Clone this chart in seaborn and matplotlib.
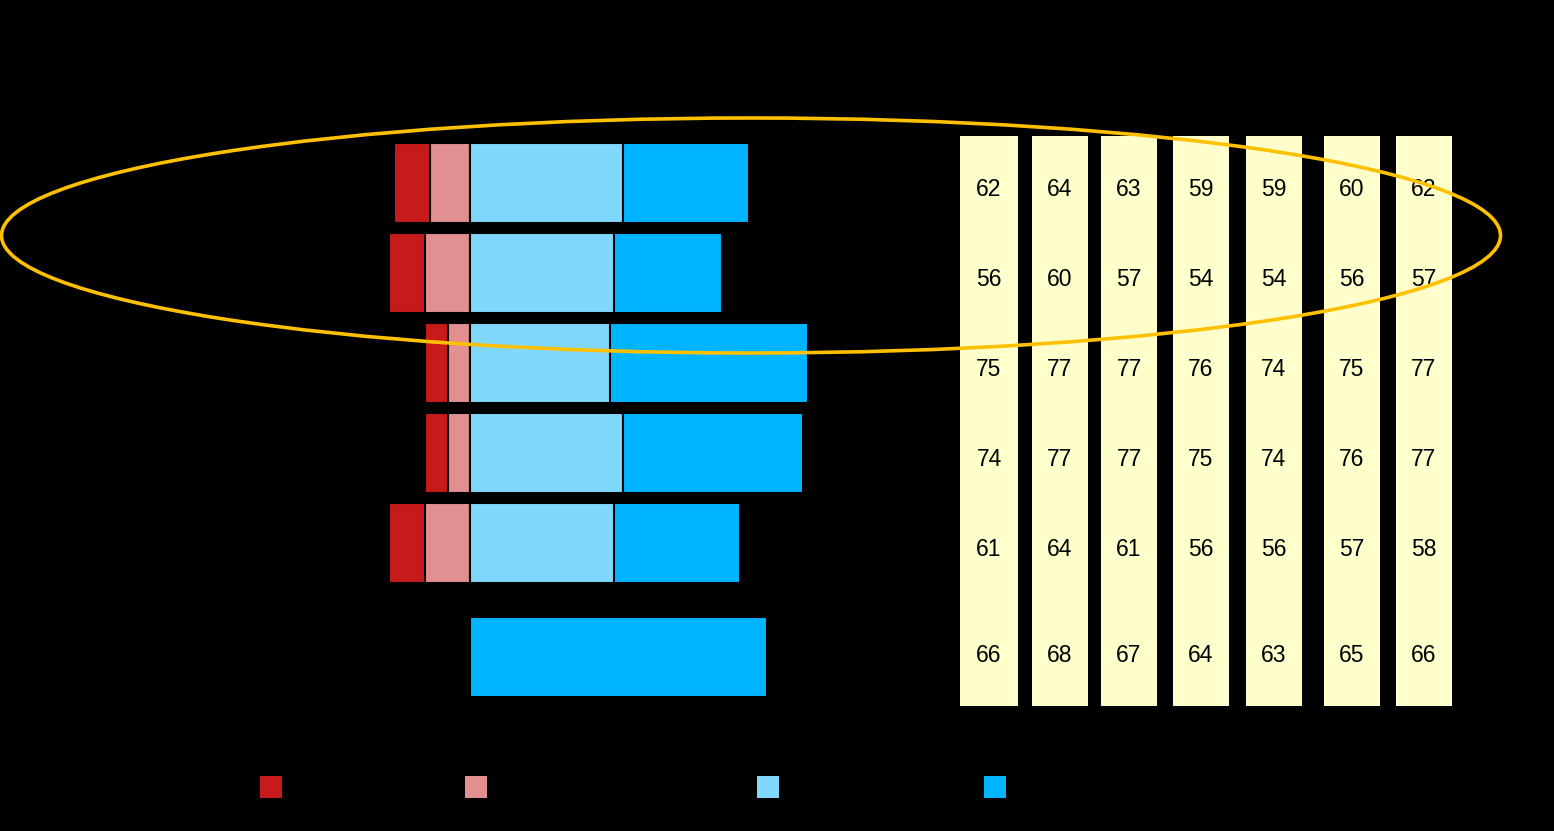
import matplotlib
matplotlib.use("Agg")
import matplotlib.pyplot as plt
from matplotlib.patches import Ellipse, Patch
import seaborn as sns
import pandas as pd

# ---------------- data ----------------
groups = ["Group A", "Group B", "Group C", "Group D", "Group E"]
total_label = ["Total"]
strong_neg = [8, 8, 5, 5, 8]      # dark red
neg = [9, 10, 5, 5, 10]           # pink
pos = [34, 32, 31, 34, 32]        # light blue
strong_pos = [28, 24, 44, 40, 28] # blue
total_pos = [66]                  # single blue bar

legend_labels = ["Strongly negative", "Negative", "Positive", "Strongly positive"]
col_headers = ["C1", "C2", "C3", "C4", "C5", "C6", "C7"]
table_rows = ["Group A", "Group B", "Group C", "Group D", "Group E", "Total"]
table_values = {
    "C1": [62, 56, 75, 74, 61, 66],
    "C2": [64, 60, 77, 77, 64, 68],
    "C3": [63, 57, 77, 77, 61, 67],
    "C4": [59, 54, 76, 75, 56, 64],
    "C5": [59, 54, 74, 74, 56, 63],
    "C6": [60, 56, 75, 76, 57, 65],
    "C7": [62, 57, 77, 77, 58, 66],
}

# ---------------- style ----------------
sns.set_theme(style="white")
plt.rcParams["font.family"] = ["Liberation Sans", "DejaVu Sans"]

C_RED = "#C71B1B"
C_PINK = "#E28F8F"
C_LBLUE = "#80D8FF"
C_BLUE = "#00B4FF"
C_YEL = "#FFFFCC"
C_ORANGE = "#FFC000"

W, H = 1554, 831
fig = plt.figure(figsize=(W / 100, H / 100), dpi=100, facecolor="black")

def fig_rect(x0, y0, x1, y1):
    return [x0 / W, 1 - y1 / H, (x1 - x0) / W, (y1 - y0) / H]

zero_px, px_per = 470, 4.5
xl = (-zero_px / px_per, (W - zero_px) / px_per)

# ---------------- main diverging bars ----------------
ax1 = fig.add_axes(fig_rect(0, 138.5, W, 588))
df = pd.DataFrame({"group": groups, "sn": strong_neg, "n": neg,
                   "p": pos, "sp": strong_pos})
df["neg_total"] = -(df["sn"] + df["n"])
df["neg_inner"] = -df["n"]
df["pos_total"] = df["p"] + df["sp"]

kw = dict(y="group", orient="h", width=0.89, edgecolor="black",
          linewidth=1.5, ax=ax1, order=groups, saturation=1)
sns.barplot(data=df, x="neg_total", color=C_RED, **kw)
sns.barplot(data=df, x="neg_inner", color=C_PINK, **kw)
sns.barplot(data=df, x="pos_total", color=C_BLUE, **kw)
sns.barplot(data=df, x="p", color=C_LBLUE, **kw)
ax1.set_xlim(*xl)
ax1.set_ylim(4.5, -0.5)
ax1.set_facecolor("none")
ax1.axis("off")

# ---------------- total bar ----------------
ax2 = fig.add_axes(fig_rect(0, 612, W, 702))
df2 = pd.DataFrame({"group": total_label, "v": total_pos})
sns.barplot(data=df2, x="v", y="group", orient="h", width=0.89,
            color=C_BLUE, edgecolor="black", linewidth=1.5, ax=ax2,
            saturation=1)
ax2.set_xlim(*xl)
ax2.set_ylim(0.5, -0.5)
ax2.set_facecolor("none")
ax2.axis("off")

# ---------------- value table (yellow columns) ----------------
col_x = [989, 1060, 1129, 1201, 1274, 1352, 1424]   # layout (pixels)
col_w = [58, 56, 56, 56, 56, 56, 56]
ax3 = fig.add_axes([0, 0, 1, 1])
ax3.set_xlim(0, W)
ax3.set_ylim(H, 0)
row_text_y = [190, 279, 369, 459, 549, 655]
for cx, cw, c in zip(col_x, col_w, col_headers):
    ax3.bar(cx, 570, bottom=135.5, width=cw, color=C_YEL, linewidth=0)
    ax3.text(cx, 128, c, ha="center", va="bottom", color="black", fontsize=14)
    for ty, v in zip(row_text_y, table_values[c]):
        ax3.text(cx, ty, f"{v}", ha="center", va="center",
                 fontsize=16.5, color="black")
ax3.set_facecolor("none")
ax3.axis("off")

# ---------------- overlay: ellipse, row labels, legend ----------------
ov = ax3
for lbl, y in zip(table_rows, [183.5, 273.5, 363, 453, 543, 657]):
    ov.text(370, y, lbl, ha="right", va="center", color="black", fontsize=14)
ov.add_patch(Ellipse((751, 235.5), 1499, 235, fill=False,
                     edgecolor=C_ORANGE, linewidth=2.6, zorder=10))

colors = [C_RED, C_PINK, C_LBLUE, C_BLUE]
leg_x = [260, 465, 757, 984]
for lbl, col, lx in zip(legend_labels, colors, leg_x):
    fig.legend(handles=[Patch(facecolor=col, edgecolor="none", label=lbl)],
               loc="center left", bbox_to_anchor=(lx / W, 1 - 788 / H),
               frameon=False, fontsize=16, handlelength=1.0,
               handleheight=1.08, borderpad=0, borderaxespad=0,
               labelcolor="black")

fig.savefig("out.png", dpi=100, facecolor="black")
